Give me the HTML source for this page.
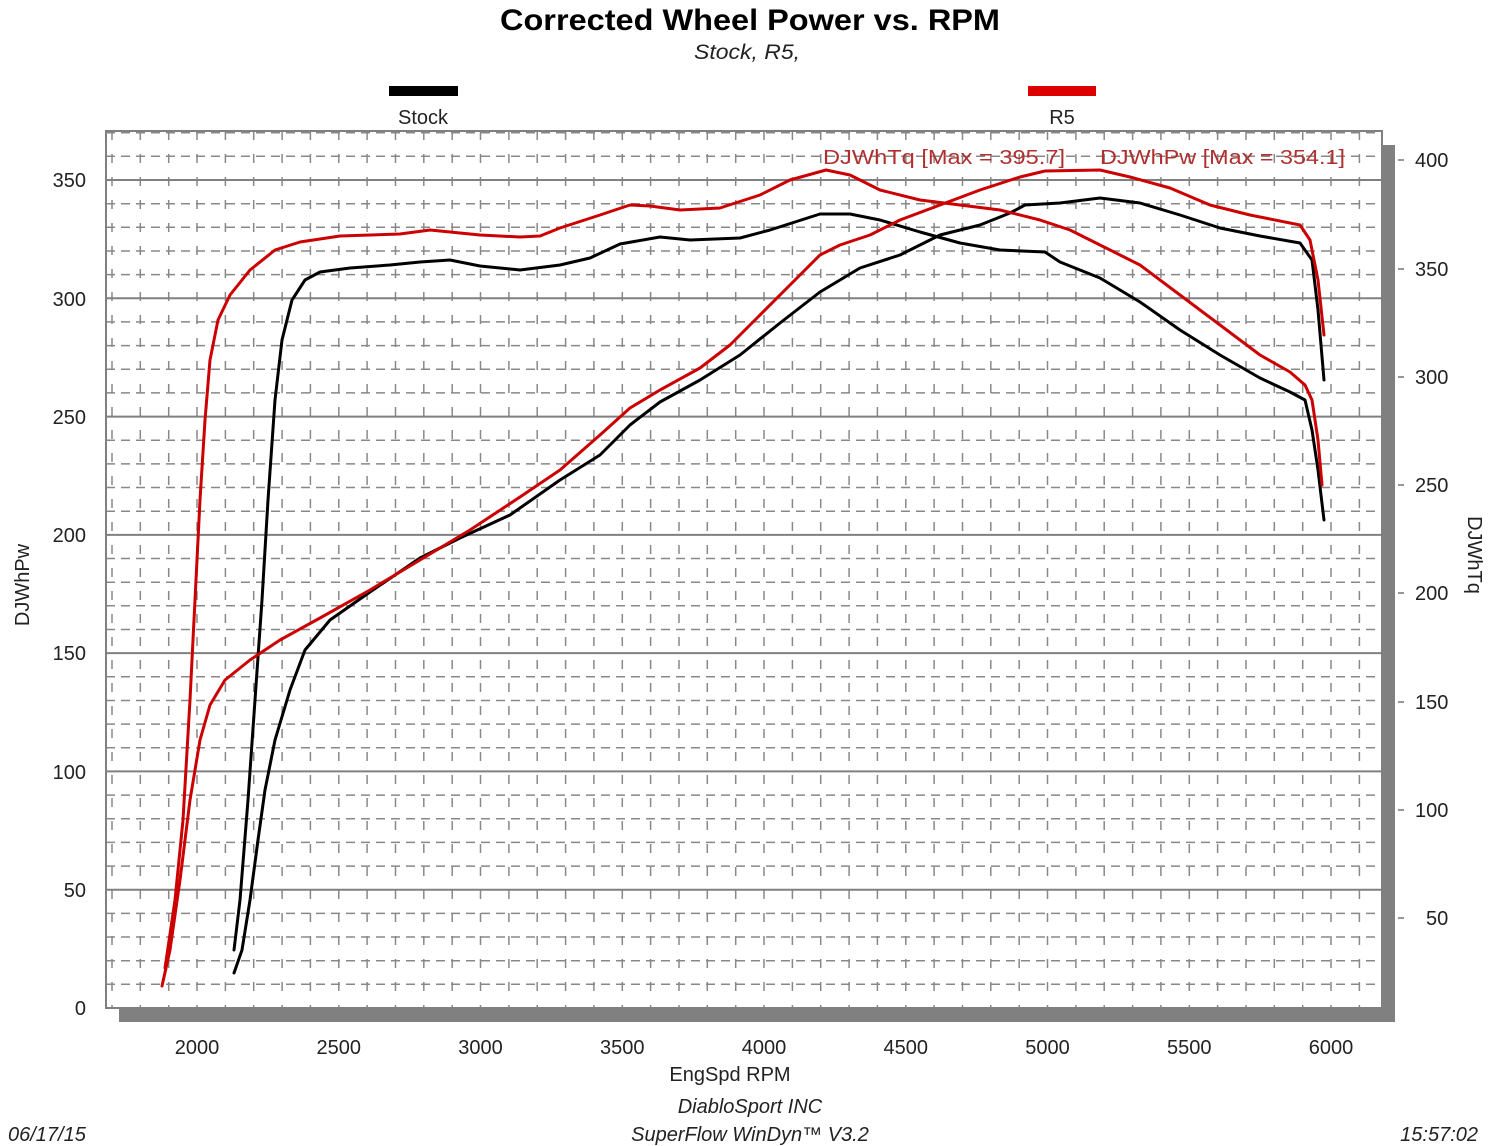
<!DOCTYPE html>
<html><head><meta charset="utf-8"><style>
html,body{margin:0;padding:0;background:#fff;}
svg{display:block;font-family:"Liberation Sans",Arial,sans-serif;}
</style></head><body>
<svg width="1500" height="1146" viewBox="0 0 1500 1146" xmlns="http://www.w3.org/2000/svg">
<rect width="1500" height="1146" fill="#fff"/>
<text x="750" y="30" text-anchor="middle" font-size="30" font-weight="bold" textLength="500" lengthAdjust="spacingAndGlyphs">Corrected Wheel Power vs. RPM</text>
<text x="747" y="59" text-anchor="middle" font-size="21" font-style="italic" fill="#222" textLength="106" lengthAdjust="spacingAndGlyphs">Stock, R5,</text>
<rect x="389" y="86" width="69" height="10" fill="#000"/>
<text x="423" y="124" text-anchor="middle" font-size="20" fill="#222">Stock</text>
<rect x="1028" y="86" width="68" height="10" fill="#d00"/>
<text x="1062" y="124" text-anchor="middle" font-size="20" fill="#222">R5</text>
<rect x="1382" y="145" width="13" height="877" fill="#808080"/>
<rect x="119" y="1008" width="1276" height="14" fill="#808080"/>
<rect x="106" y="131" width="1276" height="877" fill="#fff"/>
<path fill="none" stroke="#888" stroke-width="1.5" stroke-dasharray="9,6" d="M106 984.3H1382M106 960.7H1382M106 937H1382M106 913.4H1382M106 866.1H1382M106 842.4H1382M106 818.7H1382M106 795.1H1382M106 747.8H1382M106 724.1H1382M106 700.5H1382M106 676.8H1382M106 629.5H1382M106 605.8H1382M106 582.2H1382M106 558.5H1382M106 511.2H1382M106 487.5H1382M106 463.9H1382M106 440.2H1382M106 392.9H1382M106 369.3H1382M106 345.6H1382M106 321.9H1382M106 274.6H1382M106 251H1382M106 227.3H1382M106 203.7H1382M106 156.3H1382M106 132.7H1382"/>
<path fill="none" stroke="#888" stroke-width="1.5" stroke-dasharray="9,14" d="M112 131V1008M140.3 131V1008M168.7 131V1008M197 131V1008M225.4 131V1008M253.7 131V1008M282.1 131V1008M310.4 131V1008M338.8 131V1008M367.1 131V1008M395.5 131V1008M423.8 131V1008M452.2 131V1008M480.5 131V1008M508.9 131V1008M537.2 131V1008M565.6 131V1008M593.9 131V1008M622.3 131V1008M650.6 131V1008M679 131V1008M707.3 131V1008M735.7 131V1008M764 131V1008M792.4 131V1008M820.7 131V1008M849.1 131V1008M877.4 131V1008M905.8 131V1008M934.1 131V1008M962.5 131V1008M990.8 131V1008M1019.2 131V1008M1047.5 131V1008M1075.9 131V1008M1104.2 131V1008M1132.6 131V1008M1160.9 131V1008M1189.3 131V1008M1217.6 131V1008M1246 131V1008M1274.3 131V1008M1302.7 131V1008M1331 131V1008M1359.4 131V1008"/>
<path fill="none" stroke="#808080" stroke-width="2" d="M106 889.7H1382M106 771.4H1382M106 653.1H1382M106 534.9H1382M106 416.6H1382M106 298.3H1382M106 180H1382"/>
<rect x="106" y="131" width="1276" height="877" fill="none" stroke="#808080" stroke-width="2"/>
<g font-size="20" fill="#222" text-anchor="end">
<text x="86" y="1015">0</text><text x="86" y="897">50</text><text x="86" y="779">100</text><text x="86" y="660">150</text><text x="86" y="542">200</text><text x="86" y="424">250</text><text x="86" y="306">300</text><text x="86" y="187">350</text>
</g>
<g font-size="20" fill="#222" text-anchor="start">
<text x="1415" y="167">400</text><text x="1415" y="276">350</text><text x="1415" y="384">300</text><text x="1415" y="492">250</text><text x="1415" y="600">200</text><text x="1415" y="709">150</text><text x="1415" y="817">100</text><text x="1426" y="925">50</text>
</g>
<path stroke="#777" stroke-width="1.5" d="M1398 160h6M1398 269h6M1398 377h6M1398 485h6M1398 593h6M1398 702h6M1398 810h6M1398 918h6"/>
<g font-size="20" fill="#222" text-anchor="middle">
<text x="197" y="1054">2000</text><text x="338.8" y="1054">2500</text><text x="480.5" y="1054">3000</text><text x="622.3" y="1054">3500</text><text x="764" y="1054">4000</text><text x="905.8" y="1054">4500</text><text x="1047.5" y="1054">5000</text><text x="1189.3" y="1054">5500</text><text x="1331" y="1054">6000</text>
<text x="730" y="1081">EngSpd RPM</text>
</g>
<text transform="translate(29,585) rotate(-90)" text-anchor="middle" font-size="20" fill="#222">DJWhPw</text>
<text transform="translate(1468,555) rotate(90)" text-anchor="middle" font-size="20" fill="#222">DJWhTq</text>
<g font-size="20" fill="#b03030">
<text x="823" y="164" textLength="242" lengthAdjust="spacingAndGlyphs">DJWhTq [Max = 395.7]</text>
<text x="1100" y="164" textLength="245" lengthAdjust="spacingAndGlyphs">DJWhPw [Max = 354.1]</text>
</g>
<g fill="none" stroke-width="3" stroke-linejoin="round" stroke-linecap="round">
<polyline stroke="#000" points="234,950 240,900 248,800 255,700 262,600 268,500 275,400 282,340 292,300 305,280 320,272 350,268 390,265 420,262 450,260 480,266 520,270 560,265 590,258 620,244 660,237 690,240 740,238 770,230 820,214 850,214 880,220 920,232 960,243 1000,250 1045,252 1060,262 1100,278 1140,302 1180,330 1220,355 1260,378 1290,392 1305,400 1312,430 1318,470 1324,520"/>
<polyline stroke="#000" points="234,973 242,950 250,900 258,840 265,790 275,740 290,690 305,650 330,620 370,592 420,558 460,538 510,515 560,480 600,455 630,425 660,402 700,380 740,355 780,323 820,292 860,268 900,255 940,235 980,225 1010,213 1025,205 1060,203 1100,198 1140,203 1180,215 1220,228 1260,236 1300,243 1312,260 1318,310 1324,380"/>
<polyline stroke="#c00" points="165,968 175,900 183,820 190,700 195,600 200,500 205,420 210,360 218,320 230,295 250,270 275,250 300,242 340,236 400,234 430,230 480,235 520,237 540,236 560,228 600,215 630,205 650,206 680,210 720,208 760,195 790,180 826,170 850,175 880,190 920,200 960,205 1000,210 1040,220 1070,230 1100,245 1140,265 1180,295 1220,325 1260,355 1290,372 1305,385 1312,400 1318,440 1322,485"/>
<polyline stroke="#c00" points="162,986 170,950 180,880 190,800 200,740 210,705 225,680 250,660 280,640 320,618 370,590 420,560 470,530 520,497 560,470 600,435 630,408 660,390 700,368 730,345 760,315 790,285 820,255 840,245 870,235 900,220 940,205 980,190 1020,177 1045,171 1100,170 1130,177 1170,188 1210,205 1250,215 1300,225 1310,240 1318,280 1324,335"/>
</g>
<g font-size="20" font-style="italic" fill="#222">
<text x="750" y="1113" text-anchor="middle">DiabloSport INC</text>
<text x="750" y="1141" text-anchor="middle">SuperFlow WinDyn™ V3.2</text>
<text x="8" y="1141">06/17/15</text>
<text x="1478" y="1141" text-anchor="end">15:57:02</text>
</g>
</svg>
</body></html>
